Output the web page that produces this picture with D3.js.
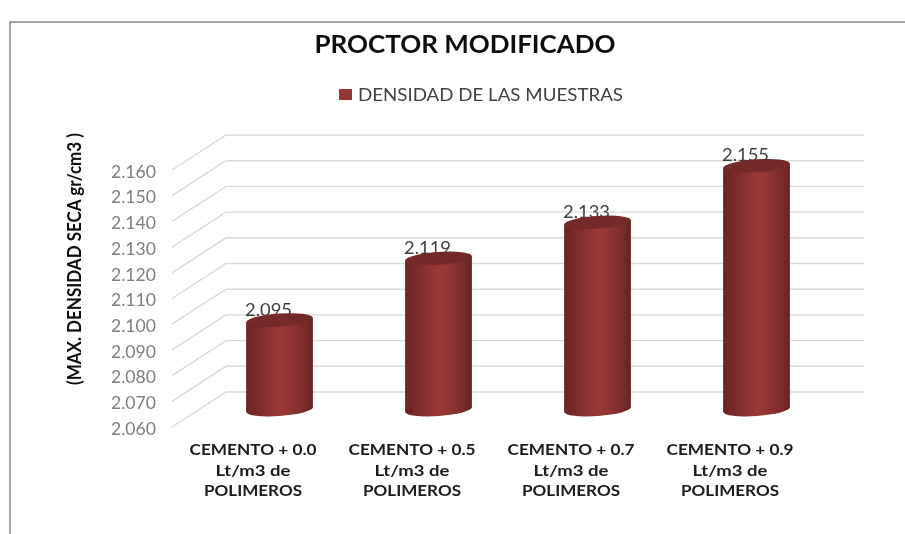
<!DOCTYPE html>
<html><head><meta charset="utf-8">
<script src="https://cdn.jsdelivr.net/npm/d3@7/dist/d3.min.js"></script>
<style>html,body{margin:0;padding:0;background:#fff}svg{display:block}text{font-family:Lato,sans-serif}</style>
</head><body><svg id="c" width="905" height="534"></svg>
<script>
const categories=[["CEMENTO + 0.0","Lt/m3 de","POLIMEROS"],["CEMENTO + 0.5","Lt/m3 de","POLIMEROS"],["CEMENTO + 0.7","Lt/m3 de","POLIMEROS"],["CEMENTO + 0.9","Lt/m3 de","POLIMEROS"]];
const values=[2.095,2.119,2.133,2.155];
const yDomain=[2.06,2.16];
const titleText="PROCTOR MODIFICADO";
const legendText="DENSIDAD DE LAS MUESTRAS";
const yTitle="(MAX. DENSIDAD SECA gr/cm3 )";

const W=905,H=534;
const svg=d3.select("#c");
const defs=svg.append("defs");
const grad=defs.append("linearGradient").attr("id","cyl");
[[0,"#6a2423"],[0.12,"#752928"],[0.5,"#9a3836"],[0.62,"#963634"],[0.88,"#7a2b2a"],[1,"#682322"]]
 .forEach(d=>grad.append("stop").attr("offset",d[0]).attr("stop-color",d[1]));
defs.append("filter").attr("id","soft").append("feGaussianBlur").attr("stdDeviation",0.35);

// chart frame
svg.append("path").attr("d",`M10,${H}V22H${W}`).attr("fill","none").attr("stroke","#868686").attr("stroke-width",1.5);

const y=d3.scaleLinear().domain(yDomain).range([392,135]);
const x=d3.scaleBand().domain(d3.range(categories.length)).range([200,836]).paddingInner(0.58).paddingOuter(0.29);
const depth={dx:-54,dy:35}, mid=17.5;
const ticks=d3.range(0,11).map(i=>yDomain[0]+i*0.01);

const plot=svg.append("g").attr("filter","url(#soft)");
// walls
const grid=plot.append("g").attr("fill","none").attr("stroke","#d9d9d9").attr("stroke-width",1.4);
ticks.forEach(t=>{
  grid.append("path").attr("d",`M${226+depth.dx},${y(t)+depth.dy}L226,${y(t)}H864`);
});

// y axis
const axis=plot.append("g").attr("transform",`translate(${226+depth.dx-16},${depth.dy+1.5})`)
  .call(d3.axisLeft(y).tickValues(ticks).tickSize(0).tickPadding(0).tickFormat(d3.format(".3f")));
axis.select(".domain").remove();
axis.selectAll("text").attr("font-size",17).attr("fill","#7f7f7f").attr("dy","0.34em")
  .style("font-family","Lato,sans-serif").attr("textLength",45).attr("lengthAdjust","spacingAndGlyphs");

// value labels sit behind the cylinder tops
values.forEach((v,i)=>{
  const cx=x(i)+x.bandwidth()/2-11;
  plot.append("text").attr("x",cx).attr("y",y(v)+mid-4).attr("text-anchor","middle")
    .attr("font-size",17).attr("fill","#404040").attr("textLength",47).attr("lengthAdjust","spacingAndGlyphs")
    .text(d3.format(".3f")(v));
});

// cylinders
const rx=x.bandwidth()/2, ry=6.5, tilt=-4;
values.forEach((v,i)=>{
  const cx=x(i)+x.bandwidth()/2;
  const yb=y(yDomain[0])+mid, yt=y(v)+mid+0.5;
  const g=plot.append("g");
  const dy=rx*Math.sin(tilt*Math.PI/180);
  g.append("path").attr("fill","url(#cyl)")
    .attr("d",`M${cx-rx},${yt-dy}L${cx+rx},${yt+dy}L${cx+rx},${yb+dy}A${rx},${ry} ${tilt} 0 1 ${cx-rx},${yb-dy}Z`);
  g.append("ellipse").attr("cx",cx).attr("cy",yt).attr("rx",rx).attr("ry",ry)
    .attr("transform",`rotate(${tilt} ${cx} ${yt})`).attr("fill","#752b2a");
});

// category labels
const lineWidths=[127,75,98];
categories.forEach((lines,i)=>{
  const cx=x(i)+x.bandwidth()/2-26;
  lines.forEach((l,k)=>plot.append("text").attr("text-anchor","middle").attr("font-weight",700).attr("font-size",16)
    .attr("fill","#1a1a1a").attr("x",cx-0.5).attr("y",455+k*20.5)
    .attr("textLength",lineWidths[k]).attr("lengthAdjust","spacingAndGlyphs").text(l));
});

// title, legend, y title
plot.append("text").attr("x",465).attr("y",53).attr("text-anchor","middle").attr("font-size",25).attr("font-weight",700)
  .attr("fill","#0d0d0d").attr("textLength",301).attr("lengthAdjust","spacingAndGlyphs").text(titleText);
plot.append("rect").attr("x",339).attr("y",89).attr("width",13).attr("height",11).attr("fill","#953735");
plot.append("text").attr("x",358).attr("y",100.5).attr("font-size",18).attr("fill","#404040")
  .attr("textLength",265).attr("lengthAdjust","spacingAndGlyphs").text(legendText);
plot.append("text").attr("transform","translate(81,259) rotate(-90)").attr("text-anchor","middle")
  .attr("font-size",19).attr("font-weight",700).attr("fill","#0d0d0d").attr("textLength",252).attr("lengthAdjust","spacingAndGlyphs").text(yTitle);
</script></body></html>
